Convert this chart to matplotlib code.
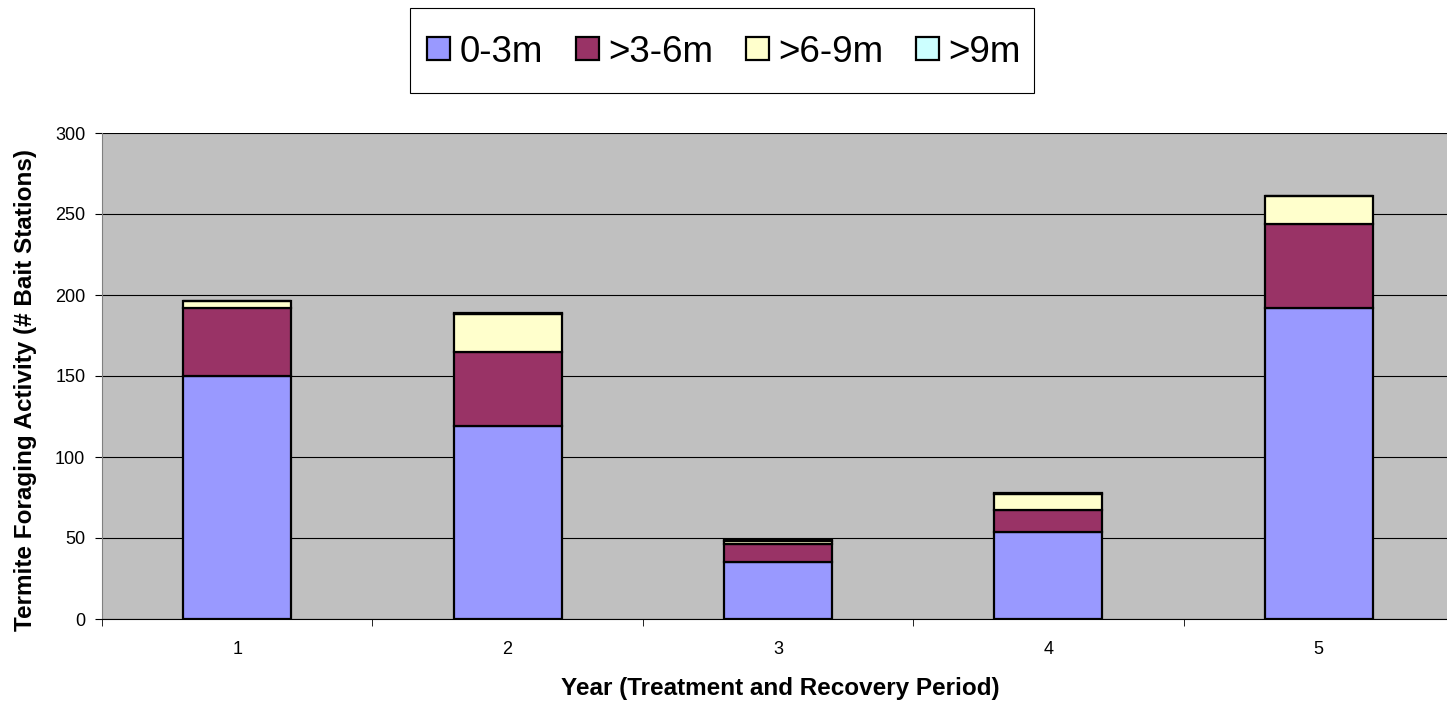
import numpy as np
import matplotlib
matplotlib.use("Agg")
import matplotlib.pyplot as plt
from matplotlib.patches import Rectangle
from matplotlib.ticker import FixedLocator, NullFormatter

plt.rcParams['font.family'] = ['Liberation Sans', 'DejaVu Sans']

# Bait stations with termite activity per distance band, by year
years = ['1', '2', '3', '4', '5']
band_0_3 = [150, 119, 35, 54, 192]
band_3_6 = [42, 46, 11, 13, 52]
band_6_9 = [4, 23, 2, 10, 17]
band_9_up = [0, 1, 1, 1, 0]

series = [
    ('0-3m', band_0_3, '#9999FF'),
    ('>3-6m', band_3_6, '#993366'),
    ('>6-9m', band_6_9, '#FFFFCC'),
    ('>9m', band_9_up, '#CCFFFF'),
]

W, H = 1447, 706
fig = plt.figure(figsize=(W / 100, H / 100), dpi=100)
ax = fig.add_axes([102 / W, 87 / H, 1352 / W, 486 / H])
ax.set_facecolor('#C0C0C0')

x = np.arange(1, len(years) + 1)
bottom = np.zeros(len(years))
for name, vals, col in series:
    ax.bar(x, vals, width=0.4, bottom=bottom, color=col, edgecolor='black',
           linewidth=1.6, label=name, zorder=3)
    bottom += np.array(vals)

ax.set_xlim(0.5, 5.5)
ax.set_ylim(0, 300)
ax.set_yticks(np.arange(0, 301, 50))
ax.yaxis.grid(True, color='black', linewidth=0.8, zorder=0)
ax.set_axisbelow(True)

# category labels in the middle, tick marks between categories
ax.set_xticks(x)
ax.set_xticklabels(years)
ax.tick_params(axis='x', which='major', length=0, pad=16, labelsize=13)
ax.xaxis.set_minor_locator(FixedLocator(np.arange(0.5, 5.6, 1.0)))
ax.xaxis.set_minor_formatter(NullFormatter())
ax.tick_params(axis='x', which='minor', length=5, color='black')
ax.tick_params(axis='y', length=5, labelsize=13, pad=7)

for side in ['top', 'right']:
    ax.spines[side].set_visible(False)
ax.spines['left'].set_color('#808080')
ax.spines['bottom'].set_color('black')

ax.set_xlabel('Year (Treatment and Recovery Period)', fontsize=17.5,
              fontweight='bold')
ax.xaxis.set_label_coords((780 - 102) / 1352, -(677 - 619) / 486)
ax.set_ylabel('Termite Foraging Activity (# Bait Stations)', fontsize=17.5,
              fontweight='bold')
ax.yaxis.set_label_coords(-(102 - 37) / 1352, (619 - 390) / 486)

# legend box drawn separately so its size can be set independently of the entries
fig.patches.append(Rectangle((410 / W, 1 - 93 / H), 624 / W, 85 / H,
                             transform=fig.transFigure, facecolor='white',
                             edgecolor='black', linewidth=0.8))
leg = fig.legend(loc='center', bbox_to_anchor=(724 / W, 1 - 52 / H),
                 ncol=4, fontsize=26.5, frameon=False,
                 handlelength=0.62, handleheight=0.62,
                 handletextpad=0.25, columnspacing=0.9, borderpad=0.0)
for h in leg.legend_handles:
    h.set_linewidth(1.6)

fig.savefig('out.png', dpi=100)
